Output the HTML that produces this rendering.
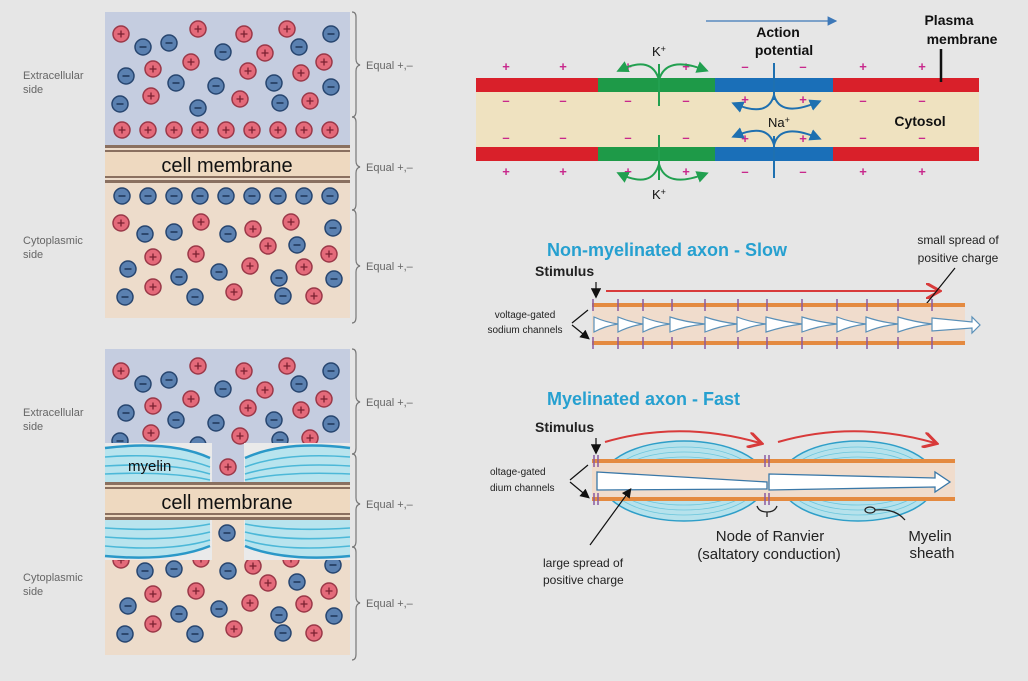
<!DOCTYPE html>
<html><head><meta charset="utf-8"><style>
html,body{margin:0;padding:0;background:#e6e6e6;}
svg{display:block;font-family:"Liberation Sans",sans-serif;}
</style></head><body>
<svg width="1028" height="681" viewBox="0 0 1028 681" xmlns="http://www.w3.org/2000/svg">
<defs>
<g id="p"><circle r="8" fill="#e46a7a" stroke="#9a3848" stroke-width="1.5"/><path d="M-3.5 0H3.5M0 -3.5V3.5" stroke="#7a2030" stroke-width="1.3"/></g>
<g id="n"><circle r="8" fill="#5a80b0" stroke="#27456f" stroke-width="1.5"/><path d="M-3.5 0H3.5" stroke="#1e3558" stroke-width="1.5"/></g>
<g id="ionsTop">
<use href="#p" x="121" y="34"/><use href="#n" x="143" y="47"/><use href="#n" x="169" y="43"/><use href="#p" x="198" y="29"/><use href="#p" x="244" y="34"/><use href="#p" x="287" y="29"/><use href="#n" x="331" y="34"/><use href="#n" x="223" y="52"/><use href="#p" x="265" y="53"/><use href="#n" x="299" y="47"/><use href="#p" x="191" y="62"/><use href="#p" x="153" y="69"/><use href="#n" x="126" y="76"/><use href="#p" x="248" y="71"/><use href="#p" x="301" y="73"/><use href="#p" x="324" y="62"/><use href="#n" x="176" y="83"/><use href="#n" x="216" y="86"/><use href="#n" x="274" y="83"/><use href="#n" x="331" y="87"/><use href="#p" x="151" y="96"/><use href="#p" x="240" y="99"/><use href="#p" x="310" y="101"/><use href="#n" x="120" y="104"/><use href="#n" x="198" y="108"/><use href="#n" x="280" y="103"/>
</g>
<g id="ionsBot">
<use href="#p" x="121" y="223"/><use href="#n" x="145" y="234"/><use href="#n" x="174" y="232"/><use href="#p" x="201" y="222"/><use href="#n" x="228" y="234"/><use href="#p" x="253" y="229"/><use href="#p" x="291" y="222"/><use href="#n" x="333" y="228"/><use href="#p" x="268" y="246"/><use href="#n" x="297" y="245"/><use href="#p" x="153" y="257"/><use href="#p" x="196" y="254"/><use href="#p" x="250" y="266"/><use href="#p" x="329" y="254"/><use href="#n" x="128" y="269"/><use href="#n" x="179" y="277"/><use href="#n" x="219" y="272"/><use href="#p" x="304" y="267"/><use href="#n" x="279" y="278"/><use href="#n" x="334" y="279"/><use href="#p" x="153" y="287"/><use href="#n" x="125" y="297"/><use href="#n" x="195" y="297"/><use href="#p" x="234" y="292"/><use href="#n" x="283" y="296"/><use href="#p" x="314" y="296"/>
</g>
<g id="brace" fill="none" stroke="#777" stroke-width="1.2">
<path d="M352 12 q4 0 4 5 v42 q0 5 4 6 q-4 1 -4 6 v40 q0 6 -4 6"/>
<path d="M352 117 q4 0 4 5 v39 q0 5 4 6 q-4 1 -4 6 v31 q0 6 -4 6"/>
<path d="M352 210 q4 0 4 5 v45 q0 5 4 6 q-4 1 -4 6 v45 q0 6 -4 6"/>
</g>
<marker id="ab" markerWidth="8" markerHeight="8" refX="7" refY="4" orient="auto"><path d="M0 0L8 4L0 8z" fill="#3d78b8"/></marker>
<marker id="ag" markerWidth="6" markerHeight="6" refX="4" refY="3" orient="auto"><path d="M0 0L6 3L0 6z" fill="#22a050"/></marker>
<marker id="abl" markerWidth="6" markerHeight="6" refX="4" refY="3" orient="auto"><path d="M0 0L6 3L0 6z" fill="#1e70b0"/></marker>
<marker id="ar" markerWidth="8" markerHeight="8" refX="6" refY="4" orient="auto"><path d="M0 0L7 4L0 8" fill="none" stroke="#d83a3a" stroke-width="1.5"/></marker>
<marker id="ak" markerWidth="8" markerHeight="8" refX="6" refY="4" orient="auto"><path d="M0 0L8 4L0 8z" fill="#111"/></marker>
</defs>

<!-- Left labels -->
<g font-size="11" fill="#666">
<text x="23" y="79">Extracellular</text><text x="23" y="93">side</text>
<text x="23" y="244">Cytoplasmic</text><text x="23" y="258">side</text>
<text x="23" y="416">Extracellular</text><text x="23" y="430">side</text>
<text x="23" y="581">Cytoplasmic</text><text x="23" y="595">side</text>
</g>

<!-- Top-left panel -->
<rect x="105" y="12" width="245" height="134" fill="#c5cde0"/>
<rect x="105" y="146" width="245" height="172" fill="#eddccb"/>
<rect x="105" y="145" width="245" height="3" fill="#8a7060"/>
<rect x="105" y="150" width="245" height="2" fill="#8a7060"/>
<rect x="105" y="176" width="245" height="2" fill="#8a7060"/>
<rect x="105" y="180" width="245" height="3" fill="#8a7060"/>
<rect x="105" y="152" width="245" height="24" fill="#eed9c0"/>
<text x="227" y="172" font-size="20" text-anchor="middle" fill="#111">cell membrane</text>
<use href="#ionsTop"/><use href="#ionsBot"/>
<g><use href="#p" x="122" y="130"/><use href="#p" x="148" y="130"/><use href="#p" x="174" y="130"/><use href="#p" x="200" y="130"/><use href="#p" x="226" y="130"/><use href="#p" x="252" y="130"/><use href="#p" x="278" y="130"/><use href="#p" x="304" y="130"/><use href="#p" x="330" y="130"/>
<use href="#n" x="122" y="196"/><use href="#n" x="148" y="196"/><use href="#n" x="174" y="196"/><use href="#n" x="200" y="196"/><use href="#n" x="226" y="196"/><use href="#n" x="252" y="196"/><use href="#n" x="278" y="196"/><use href="#n" x="304" y="196"/><use href="#n" x="330" y="196"/></g>
<use href="#brace"/>
<g font-size="11" fill="#666"><text x="366" y="69">Equal +,–</text><text x="366" y="171">Equal +,–</text><text x="366" y="270">Equal +,–</text></g>

<!-- Bottom-left panel -->
<g transform="translate(0,337)">
<rect x="105" y="12" width="245" height="96" fill="#c5cde0"/>
<rect x="105" y="108" width="245" height="210" fill="#eddccb"/>
<rect x="105" y="12" width="245" height="134" fill="#c5cde0"/>
<use href="#ionsTop"/><use href="#ionsBot"/>
<rect x="105" y="146" width="245" height="37" fill="#eed9c0"/>
<rect x="105" y="145" width="245" height="3" fill="#8a7060"/>
<rect x="105" y="150" width="245" height="2" fill="#8a7060"/>
<rect x="105" y="176" width="245" height="2" fill="#8a7060"/>
<rect x="105" y="180" width="245" height="3" fill="#8a7060"/>
<text x="227" y="172" font-size="20" text-anchor="middle" fill="#111">cell membrane</text>
<use href="#brace"/>
<g font-size="11" fill="#666"><text x="366" y="69">Equal +,–</text><text x="366" y="171">Equal +,–</text><text x="366" y="270">Equal +,–</text></g>
</g>
<!-- myelin -->
<g>
<rect x="105" y="443" width="107" height="39" fill="#eaeaea"/>
<rect x="244" y="443" width="106" height="39" fill="#eaeaea"/>
<path d="M105 448 Q170 440 210 458 V482 H105Z" fill="#b8e4ee"/>
<path d="M350 448 Q285 440 245 458 V482 H350Z" fill="#b8e4ee"/>
<g fill="none" stroke="#4cb8d8" stroke-width="1.6">
<path d="M105 448 Q170 440 210 458" stroke="#2a98c8" stroke-width="2.5"/><path d="M105 457 Q170 452 210 467"/><path d="M105 466 Q170 462 210 474"/><path d="M105 474 Q170 471 210 480"/>
<path d="M350 448 Q285 440 245 458" stroke="#2a98c8" stroke-width="2.5"/><path d="M350 457 Q285 452 245 467"/><path d="M350 466 Q285 462 245 474"/><path d="M350 474 Q285 471 245 480"/>
</g>
<text x="128" y="471" font-size="15" fill="#111">myelin</text>
<use href="#p" x="228" y="467"/>
<rect x="105" y="520" width="107" height="40" fill="#eaeaea"/>
<rect x="244" y="520" width="106" height="40" fill="#eaeaea"/>
<path d="M105 520 H210 V546 Q170 562 105 556Z" fill="#b8e4ee"/>
<path d="M350 520 H245 V546 Q285 562 350 556Z" fill="#b8e4ee"/>
<g fill="none" stroke="#4cb8d8" stroke-width="1.6">
<path d="M105 528 Q170 532 210 524"/><path d="M105 537 Q170 542 210 532"/><path d="M105 546 Q170 552 210 540"/><path d="M105 556 Q170 562 210 546" stroke="#2a98c8" stroke-width="2.5"/>
<path d="M350 528 Q285 532 245 524"/><path d="M350 537 Q285 542 245 532"/><path d="M350 546 Q285 552 245 540"/><path d="M350 556 Q285 562 245 546" stroke="#2a98c8" stroke-width="2.5"/>
</g>
<use href="#n" x="227" y="533"/>
</g>

<!-- Top-right: action potential -->
<rect x="476" y="92" width="503" height="55" fill="#efe2c0"/>
<rect x="476" y="78" width="122" height="14" fill="#d9202a"/><rect x="598" y="78" width="117" height="14" fill="#1e9a48"/><rect x="715" y="78" width="118" height="14" fill="#1a6fb8"/><rect x="833" y="78" width="146" height="14" fill="#d9202a"/>
<rect x="476" y="147" width="122" height="14" fill="#d9202a"/><rect x="598" y="147" width="117" height="14" fill="#1e9a48"/><rect x="715" y="147" width="118" height="14" fill="#1a6fb8"/><rect x="833" y="147" width="146" height="14" fill="#d9202a"/>
<g font-size="13" font-weight="bold" text-anchor="middle">
<g fill="#c8288c"><text x="506" y="71">+</text><text x="563" y="71">+</text><text x="628" y="71">+</text><text x="686" y="71">+</text><text x="863" y="71">+</text><text x="922" y="71">+</text>
<text x="745" y="104">+</text><text x="803" y="104">+</text><text x="745" y="143">+</text><text x="803" y="143">+</text>
<text x="506" y="176">+</text><text x="563" y="176">+</text><text x="628" y="176">+</text><text x="686" y="176">+</text><text x="863" y="176">+</text><text x="922" y="176">+</text></g>
<g fill="#c8288c"><text x="745" y="71">–</text><text x="803" y="71">–</text><text x="506" y="105">–</text><text x="563" y="105">–</text><text x="628" y="105">–</text><text x="686" y="105">–</text><text x="863" y="105">–</text><text x="922" y="105">–</text>
<text x="506" y="142">–</text><text x="563" y="142">–</text><text x="628" y="142">–</text><text x="686" y="142">–</text><text x="863" y="142">–</text><text x="922" y="142">–</text><text x="745" y="176">–</text><text x="803" y="176">–</text></g>
</g>
<g fill="none" stroke="#22a050" stroke-width="2">
<path d="M659 64V106M659 135V180"/>
<path d="M659 80 Q652 55 620 70" marker-end="url(#ag)"/><path d="M659 80 Q666 55 705 70" marker-end="url(#ag)"/>
<path d="M659 164 Q652 189 620 174" marker-end="url(#ag)"/><path d="M659 164 Q666 189 705 174" marker-end="url(#ag)"/>
</g>
<g fill="none" stroke="#1e70b0" stroke-width="2">
<path d="M774 63V100M774 136V178"/>
<path d="M774 95 Q768 118 735 104" marker-end="url(#abl)"/><path d="M774 95 Q780 118 818 102" marker-end="url(#abl)"/>
<path d="M774 145 Q768 122 735 136" marker-end="url(#abl)"/><path d="M774 145 Q780 122 818 138" marker-end="url(#abl)"/>
</g>
<g font-size="13" fill="#111"><text x="652" y="56">K<tspan font-size="9" dy="-4">+</tspan></text><text x="652" y="199">K<tspan font-size="9" dy="-4">+</tspan></text><text x="768" y="127">Na<tspan font-size="9" dy="-4">+</tspan></text></g>
<path d="M706 21H836" stroke="#3d78b8" stroke-width="1.2" marker-end="url(#ab)"/>
<g font-size="14" font-weight="bold" fill="#111" text-anchor="middle"><text x="778" y="37">Action</text><text x="784" y="55">potential</text>
<text x="949" y="25">Plasma</text><text x="962" y="44">membrane</text><text x="920" y="126">Cytosol</text></g>
<path d="M941 49V82" stroke="#111" stroke-width="2.5"/>

<!-- Non-myelinated -->
<text x="547" y="256" font-size="18" font-weight="bold" fill="#26a0d0">Non-myelinated axon - Slow</text>
<text x="535" y="276" font-size="14" fill="#222" font-weight="bold">Stimulus</text>
<path d="M596 282V296" stroke="#222" stroke-width="1.3" marker-end="url(#ak)"/>
<path d="M606 291H938" stroke="#d83a3a" stroke-width="2" marker-end="url(#ar)"/>
<text x="958" y="244" font-size="12" fill="#222" text-anchor="middle">small spread of</text><text x="958" y="262" font-size="12" fill="#222" text-anchor="middle">positive charge</text>
<path d="M955 268L915 318" stroke="#111" stroke-width="1.2" marker-end="url(#ak)"/>
<rect x="592" y="305" width="373" height="38" fill="#f0dccc"/>
<rect x="592" y="303" width="373" height="4" fill="#e48a40"/><rect x="592" y="341" width="373" height="4" fill="#e48a40"/>
<g stroke="#8a5aa0" stroke-width="1.5"><path d="M593 299v12M618 299v12M643 299v12M672 299v12M705 299v12M738 299v12M767 299v12M802 299v12M837 299v12M867 299v12M898 299v12M932 299v12M593 337v12M618 337v12M643 337v12M672 337v12M705 337v12M738 337v12M767 337v12M802 337v12M837 337v12M867 337v12M898 337v12M932 337v12"/></g>
<g fill="#fff" stroke="#5a90b8" stroke-width="1.2">
<path d="M594 317Q605 322 618 324Q605 326 594 332Z"/><path d="M618 317Q630 322 643 324Q630 326 618 332Z"/><path d="M643 317Q655 322 670 324Q655 326 643 332Z"/><path d="M670 317Q685 322 705 324Q685 326 670 332Z"/><path d="M705 317Q720 322 737 324Q720 326 705 332Z"/><path d="M737 317Q750 322 766 324Q750 326 737 332Z"/><path d="M766 317Q785 322 802 324Q785 326 766 332Z"/><path d="M802 317Q818 322 837 324Q818 326 802 332Z"/><path d="M837 317Q850 322 866 324Q850 326 837 332Z"/><path d="M866 317Q880 322 898 324Q880 326 866 332Z"/><path d="M898 317Q915 322 932 324Q915 326 898 332Z"/>
<path d="M932 318L972 322V317L980 325L972 333V328L932 331Z"/></g>
<text x="525" y="318" font-size="10" fill="#222" text-anchor="middle">voltage-gated</text><text x="525" y="333" font-size="10" fill="#222" text-anchor="middle">sodium channels</text>
<path d="M572 323L588 310M572 325L588 338" stroke="#111" stroke-width="1.2" fill="none" marker-end="url(#ak)"/>

<!-- Myelinated -->
<text x="547" y="405" font-size="18" font-weight="bold" fill="#26a0d0">Myelinated axon - Fast</text>
<text x="535" y="432" font-size="14" fill="#222" font-weight="bold">Stimulus</text>
<path d="M596 438V452" stroke="#222" stroke-width="1.3" marker-end="url(#ak)"/>
<path d="M605 442Q680 420 760 443" stroke="#d83a3a" stroke-width="2" fill="none" marker-end="url(#ar)"/>
<path d="M778 442Q855 420 935 443" stroke="#d83a3a" stroke-width="2" fill="none" marker-end="url(#ar)"/>
<g fill="#b6e2ec" stroke="#2e9ec8" stroke-width="1.5">
<ellipse cx="684" cy="481" rx="82" ry="40"/><ellipse cx="858" cy="481" rx="78" ry="40"/></g>
<g fill="none" stroke="#6cc6dc" stroke-width="0.8">
<ellipse cx="684" cy="481" rx="75" ry="34"/><ellipse cx="684" cy="481" rx="70" ry="29"/><ellipse cx="684" cy="481" rx="65" ry="24"/>
<ellipse cx="858" cy="481" rx="72" ry="34"/><ellipse cx="858" cy="481" rx="67" ry="29"/><ellipse cx="858" cy="481" rx="62" ry="24"/></g>
<rect x="592" y="461" width="363" height="38" fill="#f0dccc"/>
<rect x="592" y="459" width="363" height="4" fill="#e48a40"/><rect x="592" y="497" width="363" height="4" fill="#e48a40"/>
<g stroke="#8a5aa0" stroke-width="1.5"><path d="M594 455v12M598 455v12M765 455v12M769 455v12M594 493v12M598 493v12M765 493v12M769 493v12"/></g>
<g fill="#fff" stroke="#3a78a8" stroke-width="1.3">
<path d="M597 472L767 482V489L597 490Z"/><path d="M769 474L935 478V472L950 482L935 492V487L769 490Z"/></g>
<text x="490" y="475" font-size="10" fill="#222">oltage-gated</text><text x="490" y="491" font-size="10" fill="#222">dium channels</text>
<path d="M570 480L588 465M570 482L588 497" stroke="#111" stroke-width="1.2" fill="none" marker-end="url(#ak)"/>
<path d="M590 545L630 490" stroke="#111" stroke-width="1.2" marker-end="url(#ak)"/>
<text x="543" y="567" font-size="12" fill="#222">large spread of</text><text x="543" y="584" font-size="12" fill="#222">positive charge</text>
<path d="M757 506q2 6 10 6q8 0 10 -6M767 512v5" stroke="#222" stroke-width="1.3" fill="none"/>
<text x="770" y="541" font-size="15" fill="#222" text-anchor="middle">Node of Ranvier</text>
<text x="769" y="559" font-size="15" fill="#222" text-anchor="middle">(saltatory conduction)</text>
<ellipse cx="870" cy="510" rx="5" ry="3" fill="none" stroke="#222" stroke-width="1.3"/>
<path d="M875 510Q895 508 905 520" stroke="#222" stroke-width="1.3" fill="none"/>
<text x="930" y="541" font-size="15" fill="#222" text-anchor="middle">Myelin</text><text x="932" y="558" font-size="15" fill="#222" text-anchor="middle">sheath</text>
</svg>
</body></html>
